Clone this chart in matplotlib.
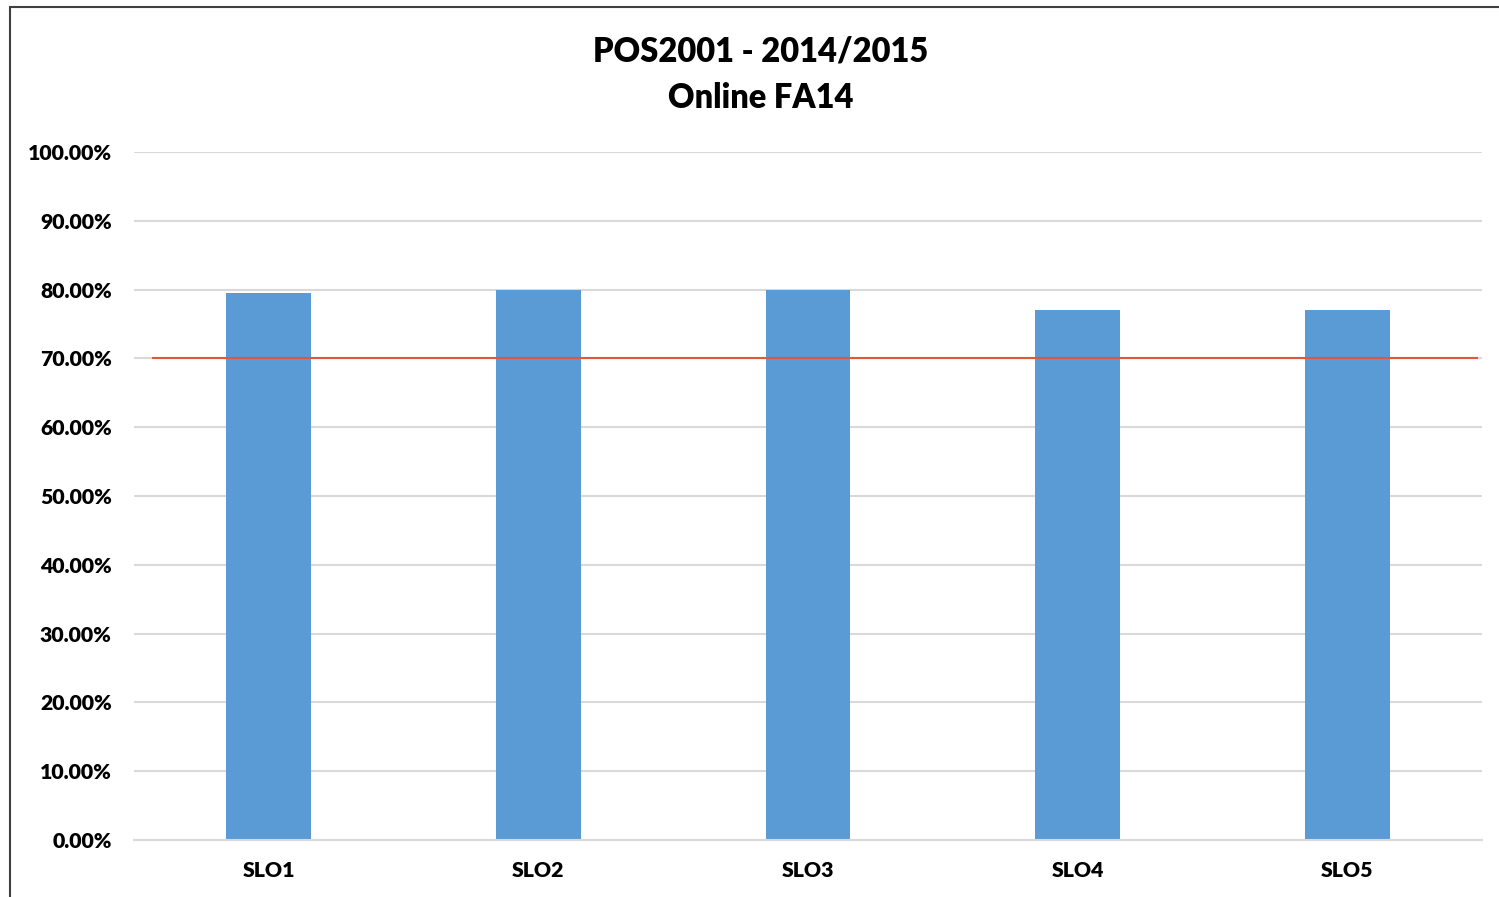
import numpy as np
import matplotlib.pyplot as plt
from matplotlib.ticker import FuncFormatter
from matplotlib.patches import Rectangle

categories = ['SLO1', 'SLO2', 'SLO3', 'SLO4', 'SLO5']
scores = [0.795, 0.80, 0.80, 0.77, 0.77]
target = [0.70, 0.70]
target_x = [-0.43, 4.48]

plt.rcParams['font.family'] = ['Lato', 'DejaVu Sans']
plt.rcParams['font.weight'] = 'bold'

fig = plt.figure(figsize=(14.99, 8.97), dpi=100)
# outer chart border (only left/top visible in the crop)
fig.patches.append(Rectangle((10 / 1499, -0.05), 1.2, 1 - 7 / 897 + 0.05,
                             transform=fig.transFigure, fill=False,
                             edgecolor='#404040', linewidth=1.5))

ax = fig.add_axes([134 / 1499, 1 - 840 / 897, (1482 - 134) / 1499, (840 - 152) / 897])
x = np.arange(len(categories))
ax.bar(x, scores, width=0.315, color='#5b9bd5', zorder=2)
ax.plot(target_x, target, color='#e0573c', linewidth=1.5, zorder=3)

ax.set_xlim(-0.5, 4.5)
ax.set_ylim(0, 1.0)
ax.set_yticks(np.arange(0, 1.01, 0.1))
ax.yaxis.set_major_formatter(FuncFormatter(lambda v, p: '%.2f%%' % (v * 100)))
ax.set_xticks(x)
ax.set_xticklabels(categories)
ax.grid(axis='y', color='#d9d9d9', linewidth=1.5, zorder=0)
ax.set_axisbelow(True)
for s in ['top', 'right', 'left']:
    ax.spines[s].set_visible(False)
ax.spines['bottom'].set_color('#d9d9d9')
ax.spines['bottom'].set_linewidth(1.5)
ax.tick_params(axis='both', length=0, labelsize=15.3)
for lab in ax.get_xticklabels() + ax.get_yticklabels():
    lab.set_fontweight('heavy')
ax.tick_params(axis='y', pad=16)
ax.tick_params(axis='x', pad=15)

fig.text(761 / 1499, 1 - 75 / 897, 'POS2001 - 2014/2015\nOnline FA14', ha='center', va='center',
         fontsize=23.5, fontweight='heavy', linespacing=1.55)

fig.savefig('out.png', dpi=100)
